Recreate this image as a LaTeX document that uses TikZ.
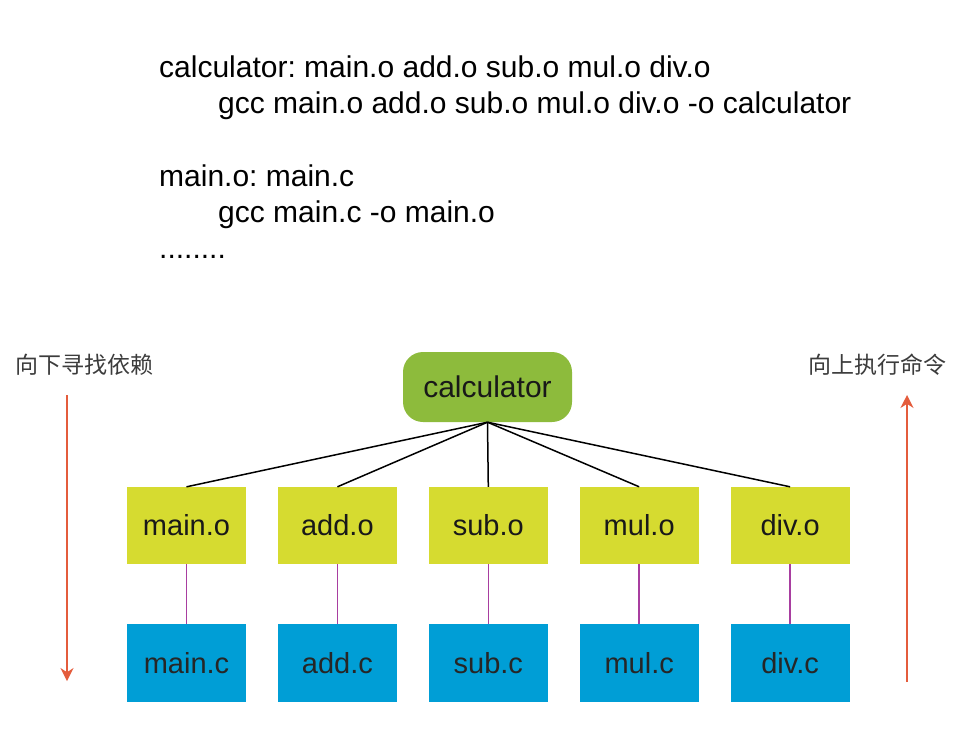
\documentclass[tikz,border=0pt]{standalone}
\usepackage{fontspec}
\setmainfont{Liberation Sans}
\newfontfamily\cjk{Noto Sans CJK SC}
\usetikzlibrary{positioning}
\usetikzlibrary{arrows.meta}
\definecolor{calcgreen}{RGB}{141,187,60}
\definecolor{objyellow}{RGB}{214,219,48}
\definecolor{srcblue}{RGB}{0,158,214}
\definecolor{linkpurple}{RGB}{168,62,160}
\definecolor{arroworange}{RGB}{228,92,60}
\definecolor{labelgray}{RGB}{60,60,60}
\frenchspacing

\begin{document}
\begin{tikzpicture}[x=1pt, y=-1pt,
    code/.style={anchor=base west, inner sep=0pt, font=\fontsize{30}{30}\selectfont},
    target/.style={fill=calcgreen, rounded corners=20pt, minimum width=169pt, minimum height=70pt, inner sep=0pt, text=black!90, font=\fontsize{30}{30}\selectfont},
    objbox/.style={fill=objyellow, minimum width=119pt, minimum height=77pt, inner sep=0pt, text=black!90, font=\fontsize{29}{29}\selectfont},
    srcbox/.style={fill=srcblue, minimum width=119pt, minimum height=78pt, inner sep=0pt, text=black!85, font=\fontsize{29}{29}\selectfont},
    dep/.style={line width=1.5pt, black},
    link/.style={line width=1.5pt, linkpurple},
    flow/.style={-{Stealth[length=13pt, width=13pt]}, line width=1.6pt, arroworange},
    side/.style={inner sep=0pt, text=labelgray, font=\cjk\fontsize{23}{23}\selectfont}]
    \useasboundingbox (0,0) rectangle (970,732);

    % Makefile rules
    \node[code] (rule1) at (159,77) {calculator: main.o add.o sub.o mul.o div.o};
    \node[code] (cmd1) at (218,113) {gcc main.o add.o sub.o mul.o div.o -o calculator};
    \node[code] (rule2) at (159,186) {main.o: main.c};
    \node[code] (cmd2) at (218,222) {gcc main.c -o main.o};
    \node[code] (more) at (159,258) {........};

    % Final target
    \node[target] (calc) at (487.5,387) {calculator};

    % Object files
    \node[objbox] (mainO) at (186.5,525.5) {main.o};
    \node[objbox, right=31.5pt of mainO] (addO) {add.o};
    \node[objbox, right=31.5pt of addO] (subO) {sub.o};
    \node[objbox, right=31.5pt of subO] (mulO) {mul.o};
    \node[objbox, right=31.5pt of mulO] (divO) {div.o};

    % Source files
    \node[srcbox, below=60pt of mainO] (mainC) {main.c};
    \node[srcbox, below=60pt of addO] (addC) {add.c};
    \node[srcbox, below=60pt of subO] (subC) {sub.c};
    \node[srcbox, below=60pt of mulO] (mulC) {mul.c};
    \node[srcbox, below=60pt of divO] (divC) {div.c};

    % Dependencies
    \draw[dep] (calc.south) -- (mainO.north);
    \draw[dep] (calc.south) -- (addO.north);
    \draw[dep] (calc.south) -- (subO.north);
    \draw[dep] (calc.south) -- (mulO.north);
    \draw[dep] (calc.south) -- (divO.north);

    \draw[link] (mainO) -- (mainC);
    \draw[link] (addO) -- (addC);
    \draw[link] (subO) -- (subC);
    \draw[link] (mulO) -- (mulC);
    \draw[link] (divO) -- (divC);

    % Direction arrows
    \node[side] (down) at (85,365) {向下寻找依赖};
    \coordinate (downTop) at (67,395);
    \coordinate (downEnd) at (67,681);
    \draw[flow] (downTop) -- (downEnd);

    \node[side] (up) at (877.5,365) {向上执行命令};
    \coordinate (upStart) at (907,682);
    \coordinate (upTop) at (907,395);
    \draw[flow] (upStart) -- (upTop);

\end{tikzpicture}
\end{document}
